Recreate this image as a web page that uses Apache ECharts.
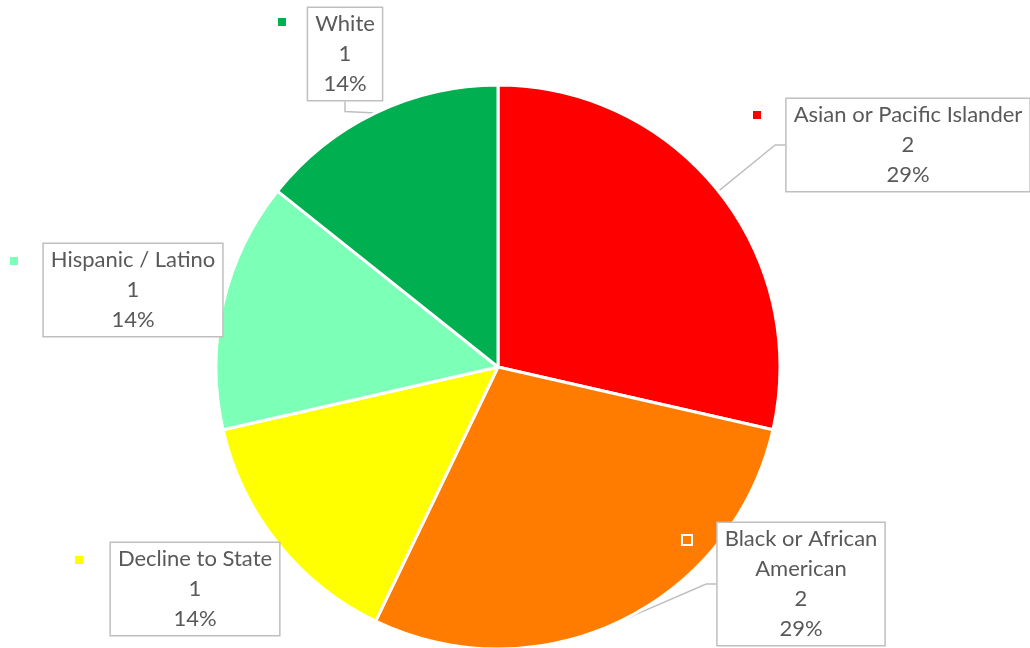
<!DOCTYPE html>
<html>
<head>
<meta charset="utf-8">
<script src="https://cdn.jsdelivr.net/npm/echarts@6/dist/echarts.min.js"></script>
<style>html,body{margin:0;padding:0;background:#fff}#c{width:1030px;height:648px}</style>
</head>
<body>
<div id="c"></div>
<script>
const categories = ['Asian or Pacific Islander', 'Black or African\nAmerican', 'Decline to State', 'Hispanic / Latino', 'White'];
const values = [2, 2, 1, 1, 1];
const colors = ['#FF0000', '#FF7C00', '#FFFF00', '#7CFFB6', '#00B050'];

// label box centres and key positions (layout only)
const boxPos = [[908, 145], [801, 584], [195, 589], [133, 290], [345, 54]];
const keyPos = [[757, 115], [687, 540], [79, 560], [14, 261], [282, 22]];

const chart = echarts.init(document.getElementById('c'));
const font = 'Lato, "Open Sans", sans-serif';

const mainData = categories.map((n, i) => ({
  name: n, value: values[i],
  itemStyle: { color: colors[i] },
  labelLine: { show: i < 2 || i === 4 }
}));
const keyData = categories.map((n, i) => ({
  name: n, value: values[i],
  label: { rich: { k: { width: 8, height: 8, backgroundColor: colors[i], borderColor: '#fff', borderWidth: 2 } } }
}));

chart.setOption({
  animation: false,
  series: [
    {
      type: 'pie',
      center: [498, 367],
      radius: 282,
      startAngle: 90,
      clockwise: true,
      percentPrecision: 0,
      data: mainData,
      itemStyle: { borderColor: '#fff', borderWidth: 3 },
      label: {
        show: true,
        formatter: '{b}\n{c}\n{d}%',
        fontFamily: font,
        fontSize: 22,
        color: '#595959',
        lineHeight: 30,
        backgroundColor: '#fff',
        borderColor: '#bfbfbf',
        borderWidth: 1.5,
        padding: [1, 7, 1, 7],
        align: 'center'
      },
      labelLine: { show: true, length: 10, length2: 10, lineStyle: { color: '#bfbfbf', width: 1.5 } },
      labelLayout: function (p) {
        return { x: boxPos[p.dataIndex][0], y: boxPos[p.dataIndex][1], align: 'center', verticalAlign: 'middle' };
      },
      silent: true
    },
    {
      type: 'pie',
      center: [498, 367],
      radius: 282,
      startAngle: 90,
      clockwise: true,
      data: keyData,
      itemStyle: { color: 'transparent', borderWidth: 0 },
      label: { show: true, formatter: '{k|}' },
      labelLine: { show: false },
      labelLayout: function (p) {
        return { x: keyPos[p.dataIndex][0], y: keyPos[p.dataIndex][1], align: 'center', verticalAlign: 'middle' };
      },
      silent: true,
      z: 5
    }
  ]
});
</script>
</body>
</html>
